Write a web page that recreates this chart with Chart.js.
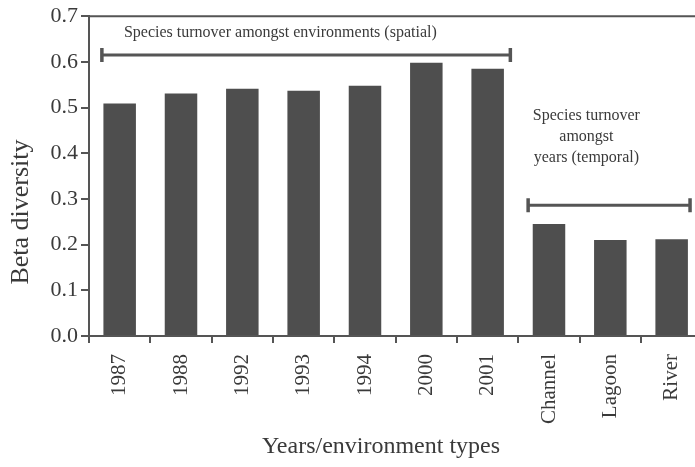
<!DOCTYPE html>
<html>
<head>
<meta charset="utf-8">
<script src="https://cdn.jsdelivr.net/npm/chart.js@4/dist/chart.umd.min.js"></script>
<style>
	html, body { margin: 0; padding: 0; background: #fff; overflow: hidden; }
	canvas { display: block; }
</style>
</head>
<body>
<canvas id="chart" width="708" height="467"></canvas>
<script>
const CATEGORIES = ['1987', '1988', '1992', '1993', '1994', '2000', '2001', 'Channel', 'Lagoon', 'River']
const BETA = [0.509, 0.531, 0.541, 0.537, 0.548, 0.598, 0.585, 0.245, 0.210, 0.212]
const Y_TICKS = [0, 0.1, 0.2, 0.3, 0.4, 0.5, 0.6, 0.7]

// Brackets over the groups, in category index / beta units
const BRACKET_FROM = [-0.29, 6.66]
const BRACKET_TO = [6.37, 9.30]
const BRACKET_AT = [0.615, 0.286]

// Notes: text lines with their anchor in category index / beta units
const NOTE_LINES = ['Species turnover amongst environments (spatial)', 'Species turnover', 'amongst', 'years (temporal)']
const NOTE_X = [2.62, 7.61, 7.61, 7.61]
const NOTE_Y = [0.663, 0.481, 0.435, 0.391]

const X_TITLE = 'Years/environment types'
const Y_TITLE = 'Beta diversity'

const SERIF = '"Liberation Serif", "DejaVu Serif", serif'
const INK = '#3a3a3a'
const AXIS = '#555'

// Annotation layer

const notes = {
	id: 'notes',
	afterDraw(chart) {
		const { ctx, chartArea, scales } = chart
		const x = scales.x
		const y = scales.y
		ctx.save()
		// top frame line
		ctx.strokeStyle = AXIS
		ctx.lineWidth = 2
		ctx.beginPath()
		ctx.moveTo(chartArea.left, chartArea.top)
		ctx.lineTo(chartArea.right, chartArea.top)
		ctx.stroke()

		ctx.strokeStyle = '#555'
		BRACKET_AT.forEach(function(v, i) {
			const x0 = x.getPixelForValue(BRACKET_FROM[i])
			const x1 = x.getPixelForValue(BRACKET_TO[i])
			const py = y.getPixelForValue(v)
			ctx.lineWidth = 3
			ctx.beginPath()
			ctx.moveTo(x0, py)
			ctx.lineTo(x1, py)
			ctx.stroke()
			ctx.lineWidth = 3.5
			ctx.beginPath()
			ctx.moveTo(x0, py - 7)
			ctx.lineTo(x0, py + 7)
			ctx.moveTo(x1, py - 7)
			ctx.lineTo(x1, py + 7)
			ctx.stroke()
		})

		ctx.fillStyle = INK
		ctx.font = '16px ' + SERIF
		ctx.textAlign = 'center'
		ctx.textBaseline = 'middle'
		NOTE_LINES.forEach(function(line, i) {
			ctx.fillText(line, x.getPixelForValue(NOTE_X[i]), y.getPixelForValue(NOTE_Y[i]))
		})

		// axis titles, placed a little off-centre like the original
		ctx.font = '24px ' + SERIF
		ctx.fillText(X_TITLE, 381, 447)
		ctx.font = '26px ' + SERIF
		ctx.translate(21, 212)
		ctx.rotate(-Math.PI / 2)
		ctx.fillText(Y_TITLE, 0, 0)
		ctx.restore()
	}
}

new Chart(document.getElementById('chart'), {
	type: 'bar',
	data: {
		labels: CATEGORIES,
		datasets: [{
			data: BETA,
			backgroundColor: '#4e4e4e',
			barPercentage: 0.53,
			categoryPercentage: 1
		}]
	},
	options: {
		responsive: false,
		animation: false,
		events: [],
		layout: { padding: { left: 0, top: 15, right: 3, bottom: 0 } },
		plugins: {
			legend: { display: false },
			tooltip: { enabled: false }
		},
		scales: {
			x: {
				offset: true,
				grid: { offset: true, drawOnChartArea: false, tickLength: 7, color: AXIS, lineWidth: 2 },
				border: { color: AXIS, width: 2 },
				ticks: {
					minRotation: 90, maxRotation: 90, autoSkip: false, padding: 11,
					color: INK, font: { family: SERIF, size: 21 }
				},
				afterFit(scale) { scale.height = 131 }
			},
			y: {
				min: 0,
				max: 0.7,
				afterBuildTicks(scale) { scale.ticks = Y_TICKS.map(v => ({ value: v })) },
				grid: { drawOnChartArea: false, tickLength: 8, color: AXIS, lineWidth: 2 },
				border: { color: AXIS, width: 2 },
				ticks: {
					padding: 3, color: INK, font: { family: SERIF, size: 22 },
					callback: v => v.toFixed(1)
				},
				afterFit(scale) { scale.width = 89 }
			}
		}
	},
	plugins: [notes]
})
</script>
</body>
</html>
